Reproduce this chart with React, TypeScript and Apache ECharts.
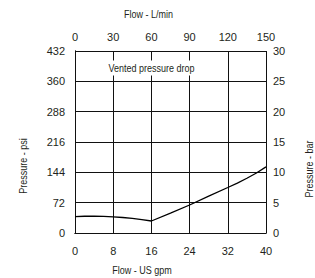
import React, { useEffect, useRef } from "react";
import * as echarts from "echarts";

const flowGpm = [0, 2, 4, 6, 8, 10, 12, 14, 16, 20, 24, 28, 32, 34, 36, 38, 40];
const pressurePsi = [39, 39.7, 40, 39.5, 38.5, 36.8, 34.5, 31.8, 28.5, 47, 66.5, 87.5, 108, 118.5, 130, 142.5, 157];

const annotation = "Vented pressure drop";
const topAxisName = "Flow - L/min";
const bottomAxisName = "Flow - US gpm";
const leftAxisName = "Pressure - psi";
const rightAxisName = "Pressure - bar";

const FONT = "'Liberation Sans', Arial, sans-serif";
const TEXT = "#231f20";
const NARROW = 0.82;

export default function App() {
  const ref = useRef<HTMLDivElement>(null);
  useEffect(() => {
    const chart = echarts.init(ref.current as HTMLDivElement, null, { renderer: "svg" });
    const lineStyle = { color: "#111", width: 1 };
    const label = { fontSize: 11, fontFamily: FONT, color: TEXT };
    const nameStyle = { fontSize: 11, fontFamily: FONT, fill: TEXT, align: "center", verticalAlign: "middle" };
    chart.setOption({
      animation: false,
      backgroundColor: "#fff",
      grid: { left: 75, right: 49, top: 51, bottom: 45 },
      xAxis: [
        {
          type: "value", position: "bottom", min: 0, max: 40, interval: 8,
          axisLine: { show: true, lineStyle }, axisTick: { show: false },
          splitLine: { show: true, lineStyle },
          axisLabel: { ...label, margin: 12 },
        },
        {
          type: "value", position: "top", min: 0, max: 150, interval: 30,
          axisLine: { show: true, lineStyle }, axisTick: { show: false },
          splitLine: { show: false },
          axisLabel: { ...label, margin: 9 },
        },
      ],
      yAxis: [
        {
          type: "value", position: "left", min: 0, max: 432, interval: 72,
          axisLine: { show: true, lineStyle }, axisTick: { show: false },
          splitLine: { show: true, lineStyle },
          axisLabel: { ...label, margin: 10 },
        },
        {
          type: "value", position: "right", min: 0, max: 30, interval: 5,
          axisLine: { show: true, lineStyle }, axisTick: { show: false },
          splitLine: { show: false },
          axisLabel: { ...label, margin: 7 },
        },
      ],
      series: [
        {
          type: "line",
          xAxisIndex: 0,
          yAxisIndex: 0,
          data: flowGpm.map((g, i) => [g, pressurePsi[i]]),
          showSymbol: false,
          smooth: false,
          lineStyle: { color: "#000", width: 1.3 },
          z: 5,
        },
      ],
      graphic: [
        { type: "text", x: 148.5, y: 14, scaleX: NARROW, z: 100, style: { ...nameStyle, text: topAxisName } },
        { type: "text", x: 142, y: 270.5, scaleX: NARROW, z: 100, style: { ...nameStyle, text: bottomAxisName } },
        { type: "text", x: 23, y: 166, rotation: Math.PI / 2, scaleX: NARROW, z: 100, style: { ...nameStyle, text: leftAxisName } },
        { type: "text", x: 309, y: 169, rotation: Math.PI / 2, scaleX: NARROW, z: 100, style: { ...nameStyle, text: rightAxisName } },
        {
          type: "text", x: 106, y: 68, scaleX: NARROW, z: 100,
          style: {
            text: annotation, fontSize: 11, fontFamily: FONT, fill: TEXT,
            align: "left", verticalAlign: "middle", backgroundColor: "#fff", padding: [2, 3],
          },
        },
      ],
    });
    return () => chart.dispose();
  }, []);
  return (
    <div
      ref={ref}
      style={{ position: "fixed", left: 0, top: 0, width: 315, height: 278, background: "#fff" }}
    />
  );
}
